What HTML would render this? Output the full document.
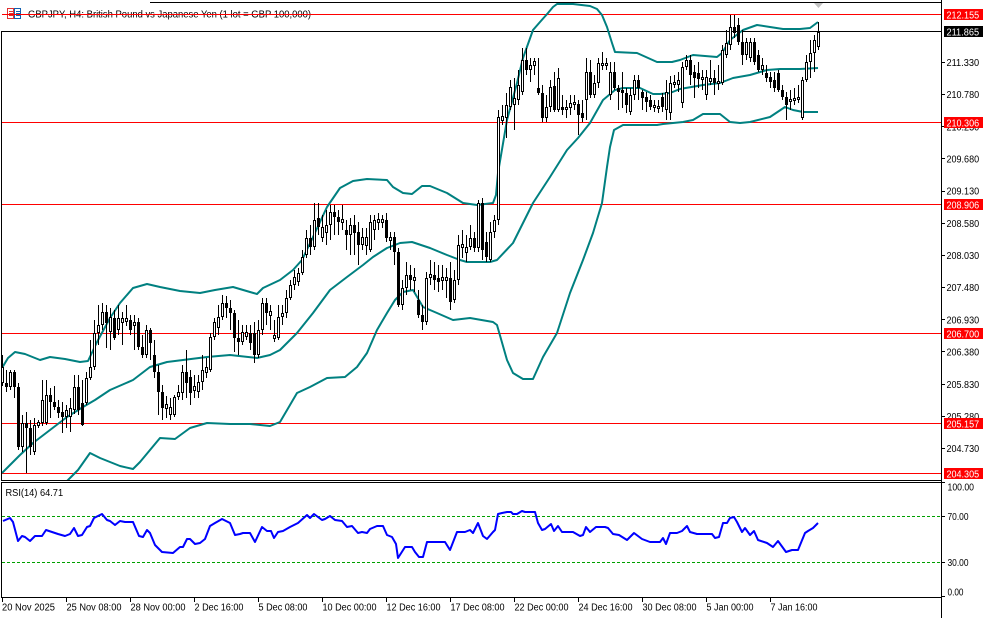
<!DOCTYPE html>
<html><head><meta charset="utf-8"><style>
html,body{margin:0;padding:0;background:#fff;}
svg{display:block;}
text{font-family:"Liberation Sans",Arial,sans-serif;}
</style></head><body>
<svg width="994" height="618" viewBox="0 0 994 618" xmlns="http://www.w3.org/2000/svg">
<defs>
<clipPath id="cm"><rect x="2" y="3" width="939" height="477"/></clipPath>
<clipPath id="cr"><rect x="2" y="482" width="939" height="115"/></clipPath>
</defs>
<rect width="994" height="618" fill="#fff"/>
<!-- frames -->
<g stroke="#000" stroke-width="1" fill="none" shape-rendering="crispEdges">
<path d="M150 2.5H941.5"/>
<path d="M1.5 31V480.5H941.5V0"/>
<path d="M1.5 482.5H941.5V597.5H1.5Z"/>
<path d="M941.5 480V620"/>
</g>
<!-- horizontal levels -->
<g stroke-width="1" shape-rendering="crispEdges">
<path d="M2 14.5H941M2 122.5H941M2 204.5H941M2 333.5H941M2 423.5H941M2 473.5H941" stroke="#ff0000"/>
<path d="M2 31.5H941" stroke="#000"/>
</g>
<!-- bollinger bands -->
<g clip-path="url(#cm)" fill="none" stroke="#008080" stroke-width="2" stroke-linejoin="round">
<polyline points="2,368 8,358 15,352 25,354 40,360 50,357 65,359 80,362 88,361 97,342 110,318 120,303 133,288 147,284 160,287 180,291 200,293 215,290 233,287 250,292 257,294 263,288 280,280 293,270 302,260 313,237 327,207 340,188 353,181 367,179 387,180 393,187 403,193 412,194 422,186 430,186 447,193 463,203 477,205 493,203 496,195 498,173 507,120 517,83 523,58 533,30 540,22 548,13 553,7 557,4 573,4 590,6 597,9 602,15 607,27 612,43 615,52 637,53 657,62 672,62 680,60 693,55 717,57 722,53 730,40 743,30 757,25 770,27 783,29 800,29 810,28 818,22"/>
<polyline points="2,473 10,465 20,455 33,443 50,430 67,417 83,407 95,400 110,390 133,380 150,367 167,362 183,360 207,357 230,355 257,358 270,355 280,350 297,333 313,313 330,290 347,277 363,265 373,257 387,248 400,243 412,242 430,248 447,255 460,260 467,262 490,262 497,260 513,243 533,203 550,177 567,150 578,138 590,123 603,100 615,90 623,88 640,88 653,94 660,94 670,93 680,89 703,85 720,83 733,78 750,75 767,70 780,69 800,69 818,68"/>
<polyline points="2,560 20,540 40,510 55,495 65,483 70,478 78,470 90,453 100,458 110,462 120,466 133,469 140,462 150,450 160,438 175,439 190,428 207,423 230,424 250,424 270,426 280,422 290,405 297,393 310,387 327,378 345,377 357,367 367,353 377,330 387,313 395,300 403,292 413,290 423,307 437,313 453,320 470,318 493,322 497,325 507,360 513,373 523,379 533,379 543,357 557,333 570,293 583,260 593,233 602,203 607,167 610,147 614,130 623,125 657,125 663,124 683,122 693,120 703,114 720,114 730,122 740,123 750,122 770,117 785,107 793,110 803,112 818,112"/>
</g>
<!-- candles -->
<g clip-path="url(#cm)" shape-rendering="crispEdges">
<path stroke="#000" stroke-width="1" fill="none" d="M2.5 355V386M6.5 370V392M10.5 370V390M14.5 370V398M18.5 383V450M22.5 415V452M26.5 412V473M30.5 420V455M34.5 418V455M38.5 420V428M42.5 380V426M46.5 380V425M50.5 388V418M54.5 386V410M58.5 400V418M62.5 402V433M66.5 405V428M70.5 398V432M74.5 375V414M78.5 375V415M82.5 380V426M86.5 372V405M90.5 340V380M94.5 320V370M98.5 305V345M102.5 303V330M106.5 305V348M110.5 308V350M114.5 310V340M118.5 305V335M122.5 312V345M126.5 305V326M130.5 315V335M134.5 315V350M138.5 318V350M142.5 335V358M146.5 325V358M150.5 328V360M154.5 340V378M158.5 365V415M162.5 385V420M166.5 396V418M170.5 398V420M174.5 395V417M178.5 385V400M182.5 365V400M186.5 350V398M190.5 370V405M194.5 375V398M198.5 375V398M202.5 355V390M206.5 358V378M210.5 333V372M214.5 318V340M218.5 305V335M222.5 295V320M226.5 296V318M230.5 300V330M234.5 310V352M238.5 320V355M242.5 325V345M246.5 325V340M250.5 325V350M254.5 322V363M258.5 320V358M262.5 298V335M266.5 298V325M270.5 305V330M274.5 320V342M278.5 305V340M282.5 305V325M286.5 290V318M290.5 280V300M294.5 270V290M298.5 268V286M302.5 250V275M306.5 230V258M310.5 225V255M314.5 203V250M318.5 203V235M322.5 215V242M326.5 210V245M330.5 205V240M334.5 205V235M338.5 210V235M342.5 205V230M346.5 220V250M350.5 218V255M354.5 215V255M358.5 222V265M362.5 228V250M366.5 228V255M370.5 215V252M374.5 215V240M378.5 213V230M382.5 215V228M386.5 213V242M390.5 232V250M394.5 232V265M398.5 248V307M402.5 280V310M406.5 262V295M410.5 265V290M414.5 268V292M418.5 290V318M422.5 305V330M426.5 272V325M430.5 260V285M434.5 262V290M438.5 265V292M442.5 265V290M446.5 268V298M450.5 262V310M454.5 270V303M458.5 235V285M462.5 230V258M466.5 235V262M470.5 225V250M474.5 232V252M478.5 200V252M482.5 198V260M486.5 232V262M490.5 222V262M494.5 215V238M498.5 110V225M502.5 105V125M506.5 93V138M510.5 80V110M514.5 78V130M518.5 70V105M522.5 48V95M526.5 48V75M530.5 58V82M534.5 58V75M538.5 58V95M542.5 85V122M546.5 95V122M550.5 80V112M554.5 72V112M558.5 68V112M562.5 95V115M566.5 100V118M570.5 95V115M574.5 95V110M578.5 100V135M582.5 100V122M586.5 58V120M590.5 60V98M594.5 75V98M598.5 58V88M602.5 52V70M606.5 58V70M610.5 62V100M614.5 62V90M618.5 85V110M622.5 72V108M626.5 88V113M630.5 88V115M634.5 75V100M638.5 75V100M642.5 90V110M646.5 92V112M650.5 95V110M654.5 100V112M658.5 100V113M662.5 93V112M666.5 80V120M670.5 76V120M674.5 75V88M678.5 72V92M682.5 62V108M686.5 55V70M690.5 55V85M694.5 65V98M698.5 62V88M702.5 70V90M706.5 70V100M710.5 60V85M714.5 70V95M718.5 65V90M722.5 45V85M726.5 30V58M730.5 15V50M734.5 15V38M738.5 18V45M742.5 30V65M746.5 38V60M750.5 38V62M754.5 38V65M758.5 50V72M762.5 58V75M766.5 65V82M770.5 72V88M774.5 72V92M778.5 70V92M782.5 85V100M786.5 92V120M790.5 90V110M794.5 88V105M798.5 85V103M802.5 77V120M806.5 55V82M810.5 40V78M814.5 35V72M818.5 22V50"/>
<path fill="#000" d="M5 383h3V387h-3ZM13 372h3V387h-3ZM17 387h3V447h-3ZM25 423h3V428h-3ZM29 428h3V447h-3ZM49 395h3V402h-3ZM53 402h3V407h-3ZM57 407h3V413h-3ZM61 412h3V417h-3ZM77 387h3V410h-3ZM81 403h3V425h-3ZM105 312h3V323h-3ZM113 318h3V338h-3ZM129 320h3V330h-3ZM137 322h3V347h-3ZM141 347h3V355h-3ZM149 330h3V343h-3ZM153 355h3V372h-3ZM157 372h3V392h-3ZM161 392h3V408h-3ZM185 372h3V383h-3ZM189 377h3V393h-3ZM225 303h3V308h-3ZM229 308h3V313h-3ZM233 313h3V338h-3ZM237 338h3V342h-3ZM249 333h3V343h-3ZM253 333h3V355h-3ZM265 303h3V313h-3ZM309 238h3V247h-3ZM317 218h3V227h-3ZM333 212h3V217h-3ZM337 217h3V222h-3ZM345 230h3V235h-3ZM353 225h3V233h-3ZM357 232h3V245h-3ZM385 220h3V238h-3ZM393 237h3V252h-3ZM397 252h3V305h-3ZM409 275h3V280h-3ZM417 300h3V315h-3ZM421 315h3V322h-3ZM433 275h3V280h-3ZM437 278h3V282h-3ZM449 278h3V302h-3ZM473 238h3V248h-3ZM481 203h3V250h-3ZM485 242h3V257h-3ZM525 60h3V70h-3ZM537 88h3V93h-3ZM541 93h3V118h-3ZM553 86h3V110h-3ZM561 107h3V110h-3ZM577 104h3V115h-3ZM581 113h3V118h-3ZM589 72h3V95h-3ZM613 72h3V88h-3ZM617 88h3V92h-3ZM621 90h3V93h-3ZM625 93h3V105h-3ZM637 80h3V88h-3ZM641 92h3V98h-3ZM645 97h3V102h-3ZM649 100h3V107h-3ZM661 97h3V107h-3ZM689 60h3V75h-3ZM693 72h3V78h-3ZM697 73h3V79h-3ZM713 78h3V83h-3ZM733 27h3V33h-3ZM737 25h3V42h-3ZM741 42h3V55h-3ZM753 42h3V62h-3ZM757 55h3V70h-3ZM765 73h3V78h-3ZM769 77h3V82h-3ZM773 80h3V88h-3ZM777 73h3V90h-3ZM781 90h3V97h-3ZM785 97h3V105h-3Z"/>
<path fill="#fff" stroke="#000" stroke-width="1" d="M1.5 367.5h2V382.5h-2ZM9.5 372.5h2V386.5h-2ZM21.5 423.5h2V446.5h-2ZM33.5 425.5h2V451.5h-2ZM37.5 422.5h2V425.5h-2ZM41.5 400.5h2V422.5h-2ZM45.5 395.5h2V422.5h-2ZM65.5 410.5h2V416.5h-2ZM69.5 408.5h2V416.5h-2ZM73.5 387.5h2V409.5h-2ZM85.5 378.5h2V402.5h-2ZM89.5 367.5h2V377.5h-2ZM93.5 333.5h2V366.5h-2ZM97.5 325.5h2V332.5h-2ZM101.5 312.5h2V324.5h-2ZM109.5 317.5h2V331.5h-2ZM117.5 318.5h2V329.5h-2ZM121.5 318.5h2V322.5h-2ZM125.5 318.5h2V321.5h-2ZM133.5 322.5h2V325.5h-2ZM145.5 330.5h2V354.5h-2ZM165.5 404.5h2V408.5h-2ZM169.5 407.5h2V414.5h-2ZM173.5 397.5h2V414.5h-2ZM177.5 392.5h2V396.5h-2ZM181.5 372.5h2V392.5h-2ZM193.5 386.5h2V390.5h-2ZM197.5 382.5h2V391.5h-2ZM201.5 370.5h2V381.5h-2ZM205.5 367.5h2V372.5h-2ZM209.5 337.5h2V369.5h-2ZM213.5 322.5h2V336.5h-2ZM217.5 317.5h2V327.5h-2ZM221.5 303.5h2V316.5h-2ZM241.5 332.5h2V341.5h-2ZM245.5 332.5h2V336.5h-2ZM257.5 330.5h2V354.5h-2ZM261.5 303.5h2V329.5h-2ZM269.5 311.5h2V315.5h-2ZM273.5 335.5h2V338.5h-2ZM277.5 317.5h2V337.5h-2ZM281.5 313.5h2V316.5h-2ZM285.5 298.5h2V312.5h-2ZM289.5 285.5h2V297.5h-2ZM293.5 277.5h2V284.5h-2ZM297.5 273.5h2V281.5h-2ZM301.5 257.5h2V272.5h-2ZM305.5 238.5h2V254.5h-2ZM313.5 220.5h2V246.5h-2ZM321.5 227.5h2V237.5h-2ZM325.5 225.5h2V232.5h-2ZM329.5 212.5h2V224.5h-2ZM341.5 219.5h2V222.5h-2ZM349.5 225.5h2V234.5h-2ZM361.5 237.5h2V244.5h-2ZM365.5 237.5h2V245.5h-2ZM369.5 222.5h2V249.5h-2ZM373.5 220.5h2V229.5h-2ZM377.5 219.5h2V222.5h-2ZM381.5 219.5h2V222.5h-2ZM389.5 237.5h2V240.5h-2ZM401.5 288.5h2V304.5h-2ZM405.5 275.5h2V287.5h-2ZM413.5 277.5h2V280.5h-2ZM425.5 278.5h2V321.5h-2ZM429.5 274.5h2V277.5h-2ZM441.5 277.5h2V280.5h-2ZM445.5 277.5h2V280.5h-2ZM453.5 280.5h2V299.5h-2ZM457.5 245.5h2V279.5h-2ZM461.5 244.5h2V247.5h-2ZM465.5 247.5h2V252.5h-2ZM469.5 238.5h2V246.5h-2ZM477.5 203.5h2V247.5h-2ZM489.5 232.5h2V259.5h-2ZM493.5 220.5h2V231.5h-2ZM497.5 117.5h2V219.5h-2ZM501.5 116.5h2V120.5h-2ZM505.5 105.5h2V117.5h-2ZM509.5 87.5h2V106.5h-2ZM513.5 98.5h2V104.5h-2ZM517.5 85.5h2V99.5h-2ZM521.5 60.5h2V91.5h-2ZM529.5 65.5h2V69.5h-2ZM533.5 61.5h2V65.5h-2ZM545.5 107.5h2V117.5h-2ZM549.5 87.5h2V106.5h-2ZM557.5 78.5h2V109.5h-2ZM565.5 107.5h2V109.5h-2ZM569.5 103.5h2V107.5h-2ZM573.5 102.5h2V104.5h-2ZM585.5 72.5h2V99.5h-2ZM593.5 83.5h2V94.5h-2ZM597.5 63.5h2V82.5h-2ZM601.5 63.5h2V65.5h-2ZM605.5 63.5h2V65.5h-2ZM609.5 72.5h2V94.5h-2ZM629.5 95.5h2V111.5h-2ZM633.5 80.5h2V94.5h-2ZM653.5 105.5h2V107.5h-2ZM657.5 106.5h2V108.5h-2ZM665.5 92.5h2V109.5h-2ZM669.5 83.5h2V112.5h-2ZM673.5 82.5h2V84.5h-2ZM677.5 80.5h2V84.5h-2ZM681.5 67.5h2V102.5h-2ZM685.5 60.5h2V66.5h-2ZM701.5 77.5h2V79.5h-2ZM705.5 77.5h2V94.5h-2ZM709.5 78.5h2V81.5h-2ZM717.5 81.5h2V83.5h-2ZM721.5 50.5h2V82.5h-2ZM725.5 43.5h2V54.5h-2ZM729.5 27.5h2V44.5h-2ZM745.5 42.5h2V54.5h-2ZM749.5 42.5h2V57.5h-2ZM761.5 65.5h2V69.5h-2ZM789.5 99.5h2V101.5h-2ZM793.5 98.5h2V100.5h-2ZM797.5 97.5h2V99.5h-2ZM801.5 80.5h2V117.5h-2ZM805.5 62.5h2V79.5h-2ZM809.5 53.5h2V61.5h-2ZM813.5 40.5h2V52.5h-2ZM817.5 32.5h2V46.5h-2Z"/>
</g>
<!-- shift marker -->
<polygon points="814,3 823,3 818.5,8" fill="#c0c0c0"/>
<!-- title -->
<g shape-rendering="crispEdges">
<rect x="7.5" y="8.5" width="6" height="10" fill="#fff" stroke="#e03030"/>
<rect x="14.5" y="8.5" width="6" height="10" fill="#fff" stroke="#1060b0"/>
<path d="M9 11.5h4M9 13.5h4M9 15.5h4" stroke="#e03030"/>
<path d="M16 11.5h4M16 13.5h4M16 15.5h4" stroke="#1060b0"/>
</g>
<text x="28" y="17.5" font-size="10" fill="#000" textLength="283" lengthAdjust="spacingAndGlyphs">GBPJPY, H4: British Pound vs Japanese Yen (1 lot = GBP 100,000)</text>
<path d="M2 14.5H330" stroke="#ff0000" stroke-width="1" shape-rendering="crispEdges"/>
<!-- right axis ticks -->
<path stroke="#000" stroke-width="1" shape-rendering="crispEdges" d="M941 62.5h4M941 94.5h4M941 126.5h4M941 158.5h4M941 191.5h4M941 223.5h4M941 255.5h4M941 287.5h4M941 319.5h4M941 351.5h4M941 384.5h4M941 416.5h4M941 448.5h4M941 482.5h4M941 516.5h4M941 562.5h4M941 596.5h4"/>
<g font-size="10" fill="#000">
<text x="946.5" y="66" textLength="32.6" lengthAdjust="spacingAndGlyphs">211.330</text>
<text x="946.5" y="98" textLength="32.6" lengthAdjust="spacingAndGlyphs">210.780</text>
<text x="946.5" y="130.5" textLength="32.6" lengthAdjust="spacingAndGlyphs">210.230</text>
<text x="946.5" y="162.5" textLength="32.6" lengthAdjust="spacingAndGlyphs">209.680</text>
<text x="946.5" y="194.5" textLength="32.6" lengthAdjust="spacingAndGlyphs">209.130</text>
<text x="946.5" y="227" textLength="32.6" lengthAdjust="spacingAndGlyphs">208.580</text>
<text x="946.5" y="259" textLength="32.6" lengthAdjust="spacingAndGlyphs">208.030</text>
<text x="946.5" y="291" textLength="32.6" lengthAdjust="spacingAndGlyphs">207.480</text>
<text x="946.5" y="323.5" textLength="32.6" lengthAdjust="spacingAndGlyphs">206.930</text>
<text x="946.5" y="355.5" textLength="32.6" lengthAdjust="spacingAndGlyphs">206.380</text>
<text x="946.5" y="388" textLength="32.6" lengthAdjust="spacingAndGlyphs">205.830</text>
<text x="946.5" y="420" textLength="32.6" lengthAdjust="spacingAndGlyphs">205.280</text>
<text x="946.5" y="452" textLength="32.6" lengthAdjust="spacingAndGlyphs">204.730</text>
<text x="947.5" y="490.5" textLength="26.5" lengthAdjust="spacingAndGlyphs">100.00</text>
<text x="947.5" y="520" textLength="21" lengthAdjust="spacingAndGlyphs">70.00</text>
<text x="947.5" y="566" textLength="21" lengthAdjust="spacingAndGlyphs">30.00</text>
<text x="947.5" y="595.5" textLength="16" lengthAdjust="spacingAndGlyphs">0.00</text>
</g>
<!-- price boxes -->
<g shape-rendering="crispEdges">
<rect x="944" y="9" width="39" height="11" fill="#ff0000"/>
<rect x="944" y="26" width="39" height="11" fill="#000"/>
<rect x="944" y="117" width="39" height="11" fill="#ff0000"/>
<rect x="944" y="199" width="39" height="11" fill="#ff0000"/>
<rect x="944" y="328" width="39" height="11" fill="#ff0000"/>
<rect x="944" y="418" width="39" height="11" fill="#ff0000"/>
<rect x="944" y="468" width="39" height="11" fill="#ff0000"/>
</g>
<g font-size="10" fill="#fff">
<text x="946.5" y="18.5" textLength="32.6" lengthAdjust="spacingAndGlyphs">212.155</text>
<text x="946.5" y="35.5" textLength="32.6" lengthAdjust="spacingAndGlyphs">211.865</text>
<text x="946.5" y="126.5" textLength="32.6" lengthAdjust="spacingAndGlyphs">210.306</text>
<text x="946.5" y="208.5" textLength="32.6" lengthAdjust="spacingAndGlyphs">208.906</text>
<text x="946.5" y="337.5" textLength="32.6" lengthAdjust="spacingAndGlyphs">206.700</text>
<text x="946.5" y="427.5" textLength="32.6" lengthAdjust="spacingAndGlyphs">205.157</text>
<text x="946.5" y="477.5" textLength="32.6" lengthAdjust="spacingAndGlyphs">204.305</text>
</g>
<!-- RSI panel -->
<g clip-path="url(#cr)">
<path d="M2 516.5H941M2 562.5H941" stroke="#00a000" stroke-width="1" stroke-dasharray="3,2" shape-rendering="crispEdges"/>
<polyline fill="none" stroke="#0000ff" stroke-width="2" stroke-linejoin="round" points="3,521 10,518 13,522 18,541 22,536 25,537 30,541 35,536 42,536 46,530 52,532 58,534 65,536 70,534 74,528 78,536 82,535 87,527 90,526 94,518 102,514 107,520 110,521 115,525 120,521 125,522 133,522 139,536 143,537 147,530 150,533 155,545 162,552 173,553 180,547 183,547 187,539 190,539 195,544 200,543 205,539 210,526 215,523 222,519 230,523 235,535 240,534 243,533 250,533 255,542 262,527 267,531 271,531 274,538 278,532 283,531 290,527 298,523 307,515 310,518 314,514 322,520 325,519 330,516 335,520 342,521 347,527 352,526 358,533 362,532 367,533 370,529 377,526 383,526 387,535 392,537 396,544 398,558 405,547 412,547 415,552 419,557 423,557 427,542 433,542 445,542 450,550 457,532 465,532 470,530 473,533 478,523 483,536 487,539 493,532 495,530 498,514 502,513 507,512 511,512 513,514 517,514 522,511 525,512 535,512 538,523 542,530 545,529 551,524 554,531 558,526 562,532 570,532 573,532 580,536 583,535 586,527 590,532 596,527 605,527 608,528 613,534 619,535 627,540 634,533 642,539 650,542 660,542 663,538 666,544 670,533 677,533 682,531 687,526 690,532 697,534 712,534 715,538 719,537 723,523 727,523 730,518 734,517 737,522 742,532 745,528 750,535 754,531 758,540 767,543 773,547 778,541 786,552 792,550 798,550 805,533 808,531 813,528 818,523"/>
</g>
<text x="5.5" y="496" font-size="10" fill="#000" textLength="57.6" lengthAdjust="spacingAndGlyphs">RSI(14) 64.71</text>
<!-- bottom axis -->
<path stroke="#000" stroke-width="1" shape-rendering="crispEdges" d="M2.5 597V602M66.5 597V602M130.5 597V602M194.5 597V602M258.5 597V602M322.5 597V602M386.5 597V602M450.5 597V602M514.5 597V602M578.5 597V602M642.5 597V602M706.5 597V602M770.5 597V602"/>
<g font-size="10" fill="#000">
<text x="2" y="610.5" textLength="53" lengthAdjust="spacingAndGlyphs">20 Nov 2025</text>
<text x="66.5" y="610.5" textLength="55" lengthAdjust="spacingAndGlyphs">25 Nov 08:00</text>
<text x="130.5" y="610.5" textLength="55" lengthAdjust="spacingAndGlyphs">28 Nov 00:00</text>
<text x="194.5" y="610.5" textLength="49" lengthAdjust="spacingAndGlyphs">2 Dec 16:00</text>
<text x="258.5" y="610.5" textLength="49" lengthAdjust="spacingAndGlyphs">5 Dec 08:00</text>
<text x="322.5" y="610.5" textLength="54" lengthAdjust="spacingAndGlyphs">10 Dec 00:00</text>
<text x="386.5" y="610.5" textLength="54" lengthAdjust="spacingAndGlyphs">12 Dec 16:00</text>
<text x="450.5" y="610.5" textLength="54" lengthAdjust="spacingAndGlyphs">17 Dec 08:00</text>
<text x="514.5" y="610.5" textLength="54" lengthAdjust="spacingAndGlyphs">22 Dec 00:00</text>
<text x="578.5" y="610.5" textLength="54" lengthAdjust="spacingAndGlyphs">24 Dec 16:00</text>
<text x="642.5" y="610.5" textLength="54" lengthAdjust="spacingAndGlyphs">30 Dec 08:00</text>
<text x="706.5" y="610.5" textLength="47" lengthAdjust="spacingAndGlyphs">5 Jan 00:00</text>
<text x="770.5" y="610.5" textLength="47" lengthAdjust="spacingAndGlyphs">7 Jan 16:00</text>
</g>
</svg>
</body></html>
